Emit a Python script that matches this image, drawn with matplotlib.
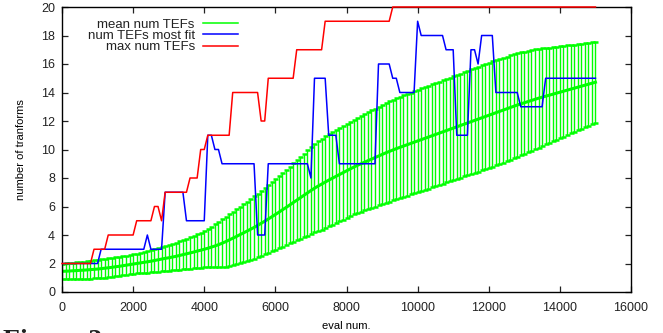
import numpy as np
import matplotlib
matplotlib.use("Agg")
import matplotlib.pyplot as plt
from matplotlib.lines import Line2D

plt.rcParams['font.family'] = ['Liberation Sans', 'DejaVu Sans']

# ---------------- data ----------------
evals = np.arange(0, 15001, 100)

mean_tefs = [
    1.45, 1.46, 1.47, 1.49, 1.50, 1.52, 1.53, 1.55, 1.57, 1.59,
    1.61, 1.64, 1.67, 1.70, 1.73, 1.77, 1.80, 1.84, 1.88, 1.92,
    1.96, 2.00, 2.04, 2.08, 2.12, 2.16, 2.21, 2.26, 2.31, 2.36,
    2.40, 2.45, 2.50, 2.56, 2.62, 2.68, 2.74, 2.80, 2.87, 2.93,
    3.00, 3.07, 3.15, 3.23, 3.32, 3.42, 3.53, 3.65, 3.77, 3.89,
    4.02, 4.14, 4.27, 4.40, 4.53, 4.67, 4.82, 4.97, 5.12, 5.28,
    5.44, 5.60, 5.77, 5.93, 6.10, 6.27, 6.44, 6.61, 6.78, 6.95,
    7.12, 7.28, 7.43, 7.57, 7.71, 7.85, 7.98, 8.11, 8.24, 8.37,
    8.50, 8.63, 8.76, 8.88, 8.99, 9.10, 9.21, 9.32, 9.43, 9.54,
    9.65, 9.76, 9.86, 9.96, 10.06, 10.15, 10.24, 10.33, 10.42, 10.51,
    10.60, 10.69, 10.78, 10.87, 10.96, 11.05, 11.14, 11.23, 11.32, 11.41,
    11.50, 11.59, 11.68, 11.77, 11.86, 11.95, 12.04, 12.13, 12.22, 12.31,
    12.40, 12.49, 12.58, 12.67, 12.76, 12.85, 12.94, 13.03, 13.12, 13.20,
    13.28, 13.36, 13.44, 13.52, 13.60, 13.67, 13.74, 13.81, 13.88, 13.95,
    14.02, 14.09, 14.16, 14.23, 14.30, 14.37, 14.44, 14.51, 14.58, 14.65,
    14.72,
]

std_tefs = [
    0.55, 0.56, 0.57, 0.58, 0.59, 0.60, 0.61, 0.62, 0.63, 0.64,
    0.65, 0.65, 0.66, 0.66, 0.67, 0.67, 0.67, 0.68, 0.68, 0.68,
    0.68, 0.70, 0.72, 0.74, 0.76, 0.78, 0.80, 0.83, 0.85, 0.88,
    0.90, 0.93, 0.96, 0.99, 1.02, 1.06, 1.10, 1.14, 1.18, 1.23,
    1.28, 1.35, 1.43, 1.51, 1.60, 1.68, 1.75, 1.81, 1.87, 1.93,
    1.98, 2.03, 2.08, 2.13, 2.18, 2.23, 2.28, 2.33, 2.38, 2.43,
    2.48, 2.53, 2.58, 2.63, 2.69, 2.75, 2.81, 2.87, 2.93, 2.99,
    3.05, 3.10, 3.15, 3.19, 3.22, 3.24, 3.26, 3.27, 3.28, 3.29,
    3.30, 3.31, 3.32, 3.34, 3.36, 3.38, 3.40, 3.42, 3.44, 3.46,
    3.48, 3.50, 3.51, 3.52, 3.53, 3.54, 3.55, 3.56, 3.57, 3.58,
    3.59, 3.60, 3.60, 3.61, 3.61, 3.62, 3.62, 3.63, 3.63, 3.64,
    3.64, 3.65, 3.65, 3.66, 3.66, 3.67, 3.67, 3.68, 3.68, 3.69,
    3.69, 3.70, 3.70, 3.69, 3.68, 3.67, 3.66, 3.65, 3.63, 3.61,
    3.59, 3.56, 3.53, 3.50, 3.46, 3.42, 3.38, 3.34, 3.30, 3.26,
    3.22, 3.18, 3.14, 3.10, 3.06, 3.02, 2.98, 2.94, 2.91, 2.88,
    2.85,
]

# step series: eval number where a new level begins, and the level
fit_change = [0, 1050, 2350, 2450, 2850, 3450, 4050, 4250, 4450, 5450, 5750,
              6950, 7050, 7450, 7750, 8850, 9250, 9450, 10000, 10100, 10750,
              11100, 11450, 11650, 11750, 12200, 12900, 13550]
fit_level = [2, 3, 4, 3, 7, 5, 11, 10, 9, 4, 9,
             8, 15, 11, 9, 16, 15, 14, 19, 18, 17,
             11, 17, 16, 18, 14, 13, 15]

max_change = [0, 850, 1250, 2050, 2550, 2750, 2850, 3550, 3850, 4050, 4750,
              5550, 5750, 6550, 7350, 9250]
max_level = [2, 3, 4, 5, 6, 5, 7, 8, 10, 11, 14,
             12, 15, 17, 19, 20]

labels = ["mean num TEFs", "num TEFs most fit", "max num TEFs"]


def sample_steps(change, level, x):
    idx = np.searchsorted(np.asarray(change), x, side='right') - 1
    return np.asarray(level)[idx]


fit_vals = sample_steps(fit_change, fit_level, evals)
max_vals = sample_steps(max_change, max_level, evals)

# ---------------- figure ----------------
W, H = 663, 333
fig = plt.figure(figsize=(W / 100, H / 100), dpi=100)
L, R, B, T = 62, 631, 292, 7
ax = fig.add_axes([L / W, 1 - B / H, (R - L) / W, (B - T) / H])

green = '#00ff00'
ax.errorbar(evals, mean_tefs, yerr=std_tefs, color=green, lw=2.2,
            elinewidth=1.0, capsize=1.8, capthick=1.8, label=labels[0],
            zorder=2)
ax.plot(evals, fit_vals, color='#0000ff', lw=1.1, label=labels[1], zorder=3)
ax.plot(evals, max_vals, color='#ff0000', lw=1.1, label=labels[2], zorder=4,
        clip_on=False)

ax.set_xlim(0, 16000)
ax.set_ylim(0, 20)
ax.set_xticks(np.arange(0, 16001, 2000))
ax.set_yticks(np.arange(0, 21, 2))

ax.tick_params(direction='in', length=4.5, width=0.9, top=True, right=True,
               labelsize=9, colors='#222222', pad=5)
ax.tick_params(axis='x', pad=7)
for s in ax.spines.values():
    s.set_linewidth(1.0)
    s.set_color('black')

ax.set_xlabel("eval num.", fontsize=8, labelpad=5)
ax.set_ylabel("number of tranforms", fontsize=8, labelpad=11)

hs = [Line2D([], [], color=green, lw=1.1),
      Line2D([], [], color='#0000ff', lw=1.1),
      Line2D([], [], color='#ff0000', lw=1.1)]
leg = ax.legend(hs, labels, loc='upper right', markerfirst=False,
                frameon=False, fontsize=9.5, handlelength=2.7,
                handletextpad=0.6, labelspacing=-0.08, borderpad=0,
                bbox_to_anchor=(245 / W, 1 - 12 / H),
                bbox_transform=fig.transFigure)
for t in leg.get_texts():
    t.set_color('#222222')

fig.text(3 / W, 1 - 348 / H, "Figure 3", fontsize=20, fontweight='bold',
         family=['Liberation Serif', 'DejaVu Serif'], va='baseline',
         ha='left', color='#222222')

fig.savefig("out.png", dpi=100)
